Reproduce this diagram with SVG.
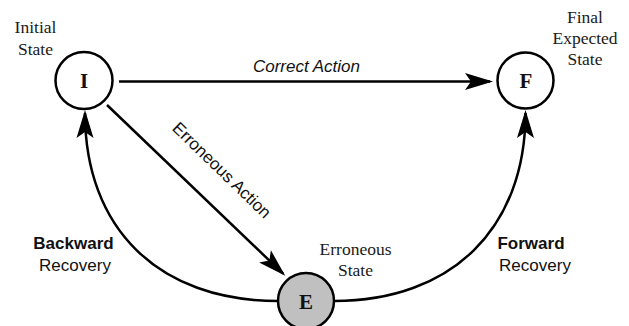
<svg xmlns="http://www.w3.org/2000/svg" width="629" height="326" viewBox="0 0 629 326">
<defs>
<marker id="arr" markerUnits="userSpaceOnUse" markerWidth="40" markerHeight="24" viewBox="-30 -12 40 24" refX="0" refY="0" orient="auto" overflow="visible">
<path d="M3,0 L-25,-8.5 L-19,0 L-25,8.5 Z" fill="#000"/>
</marker>
</defs>
<style>
.node{fill:#fff;stroke:#000;stroke-width:2.5}
.err{fill:#c0c0c0}
.lbl{font-family:"Liberation Serif","Times New Roman",serif;font-size:17.5px;fill:#1a1a1a;text-anchor:middle}
.letter{font-family:"Liberation Serif","Times New Roman",serif;font-size:21px;font-weight:bold;fill:#111;text-anchor:middle}
.sans{font-family:"Liberation Sans",Arial,sans-serif;font-size:17px;fill:#111;text-anchor:middle}
.conn{fill:none;stroke:#000;stroke-width:2.5;marker-end:url(#arr)}
</style>
<rect width="629" height="326" fill="#fff"/>
<g id="connectors">
<path class="conn" d="M119,81.5 L490,81.5"/>
<path class="conn" d="M107,105 L283.1,273.7"/>
<path class="conn" d="M278,301 C158,301 85,228 85,113"/>
<path class="conn" d="M334,301 C452,301 525.5,228 525.5,113"/>
<text class="sans" x="306.5" y="71.5" font-style="italic">Correct Action</text>
<text class="sans" transform="translate(222,170) rotate(44)" x="0" y="6">Erroneous Action</text>
<text class="sans" x="73.5" y="248.5" font-weight="bold">Backward</text>
<text class="sans" x="75" y="271">Recovery</text>
<text class="sans" x="531" y="248.5" font-weight="bold">Forward</text>
<text class="sans" x="535" y="271">Recovery</text>
</g>
<g id="node-I">
<circle class="node" cx="84" cy="80.5" r="28.5"/>
<text class="letter" x="84" y="88">I</text>
<text class="lbl" x="35.5" y="33">Initial</text>
<text class="lbl" x="35.5" y="54.5">State</text>
</g>
<g id="node-F">
<circle class="node" cx="525.5" cy="80.5" r="28"/>
<text class="letter" x="526" y="88">F</text>
<text class="lbl" x="585" y="22.5">Final</text>
<text class="lbl" x="585" y="43.5">Expected</text>
<text class="lbl" x="585" y="64.5">State</text>
</g>
<g id="node-E">
<circle class="node err" cx="306" cy="301" r="28"/>
<text class="letter" x="306" y="308.5">E</text>
<text class="lbl" x="355.5" y="255">Erroneous</text>
<text class="lbl" x="355.5" y="275.5">State</text>
</g>
</svg>
